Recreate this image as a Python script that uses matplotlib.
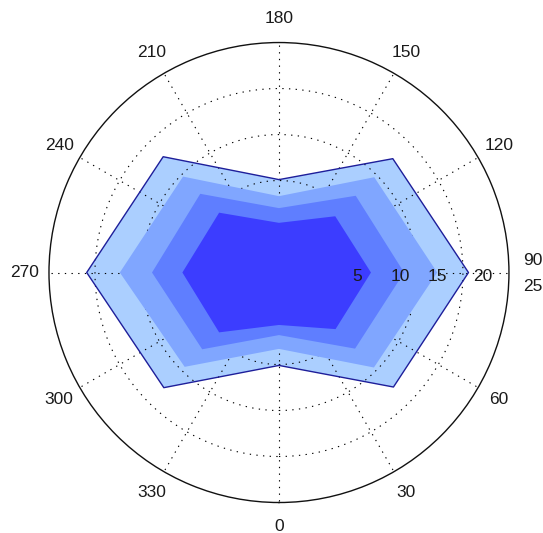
import numpy as np
import matplotlib
matplotlib.use("Agg")
import matplotlib.pyplot as plt

plt.rcParams['font.family'] = ['Liberation Sans', 'DejaVu Sans']

# Polygon vertex angles (degrees) and the radius of each filled level
angles_deg = [0, 45, 90, 135, 180, 225, 270, 315]
level1_r = [10.1, 17.6, 20.6, 17.5, 10.1, 17.8, 20.9, 17.7]
level2_r = [8.3, 14.6, 17.2, 14.65, 8.3, 14.75, 17.3, 14.5]
level3_r = [6.8, 11.7, 13.6, 11.8, 7.0, 12.1, 13.8, 11.8]
level4_r = [5.7, 8.7, 10.0, 8.65, 5.4, 9.2, 10.5, 9.2]
level_colors = ['#abcfff', '#80a6ff', '#5f7eff', '#3c3dff']

theta_ticks = list(range(0, 360, 30))
theta_labels = [str(t) for t in theta_ticks]
r_ticks = [5, 10, 15, 20, 25]
r_labels = [str(r) for r in r_ticks]
r_max = 25

# where the radial tick labels sit along the 90 spoke
r_label_pos = [8.5, 13.2, 17.2, 22.1]
label_r = 27.6
font_size = 12.5
text_color = '#1a1a1a'

fig = plt.figure(figsize=(5.43, 5.33), dpi=100)
ax = fig.add_axes([0.0902, 0.0572, 0.8471, 0.863], projection='polar')
ax.set_theta_zero_location('S')
ax.set_theta_direction(1)
ax.set_ylim(0, r_max)
ax.set_xticks([])
ax.set_yticks([])
ax.grid(False)
ax.spines['polar'].set_linewidth(1.0)
ax.spines['polar'].set_color('#111111')

th = np.deg2rad(angles_deg + [angles_deg[0]])

def closed(vals):
    return list(vals) + [vals[0]]

# outermost level sits under the grid, inner levels cover it
ax.fill(th, closed(level1_r), color=level_colors[0], zorder=1, lw=0)
ax.plot(th, closed(level1_r), color='#1e1e9a', lw=1.0, zorder=3)
for vals, col in zip([level2_r, level3_r, level4_r], level_colors[1:]):
    ax.fill(th, closed(vals), color=col, zorder=2.5, lw=0)

# dotted grid
dot = (0, (1.2, 4.8))
circ = np.linspace(0, 2 * np.pi, 400)
for r in r_ticks[:-1]:
    ax.plot(circ, np.full_like(circ, r), color='black', lw=0.8,
            linestyle=dot, zorder=2)
for t in theta_ticks:
    ax.plot([np.deg2rad(t), np.deg2rad(t)], [0, r_max], color='black',
            lw=0.8, linestyle=dot, zorder=2)

# angle labels
for t, lab in zip(theta_ticks, theta_labels):
    dy = 9 if t == 90 else 0
    ax.annotate(lab, xy=(np.deg2rad(t), label_r), xytext=(0, dy),
                textcoords='offset points', ha='center', va='center',
                fontsize=font_size, color=text_color, zorder=5,
                annotation_clip=False)

# radial labels, laid out just below the 90 spoke
for lab, pos in zip(r_labels[:-1], r_label_pos):
    ax.annotate(lab, xy=(np.deg2rad(90), pos), xytext=(0, -3),
                textcoords='offset points', ha='center', va='center',
                fontsize=font_size, color=text_color, zorder=5,
                annotation_clip=False)
ax.annotate(r_labels[-1], xy=(np.deg2rad(90), label_r), xytext=(0, -10),
            textcoords='offset points', ha='center', va='center',
            fontsize=font_size, color=text_color, zorder=5,
            annotation_clip=False)

fig.savefig('out.png', dpi=100)
